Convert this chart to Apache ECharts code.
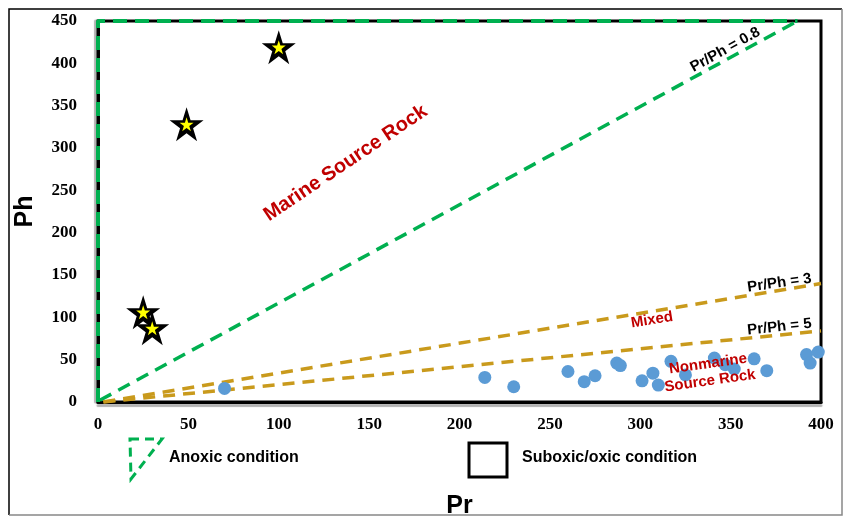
<!DOCTYPE html>
<html>
<head>
<meta charset="utf-8">
<script src="https://cdn.jsdelivr.net/npm/echarts@6/dist/echarts.min.js"></script>
<style>
  html,body{margin:0;padding:0;background:#fff;}
  #chart{width:843px;height:518px;}
</style>
</head>
<body>
<div id="chart"></div>
<script>
"use strict";

// samples (stars = marine, dots = nonmarine)
var starPr=[100,49,25,30];
var starPh=[419,328,106,87];

var dotPr=[70,214,230,260,269,275,287,289,301,307,310,317,325,341,347,352,363,370,392,394,398.5];
var dotPh=[16,29,18,36,24,31,46,43,25,34,20,48,32,52,44,39,51,37,56,46,59];

// ratio lines
var line08Pr=[1,387], line08Ph=[2,450];
var line3Pr=[3,400], line3Ph=[0,140];
var line5Pr=[3,400], line5Ph=[0,84];

// anoxic zone edge along left / top
var anoxPr=[0,0,387];
var anoxPh=[0,450,450];

var xTicks=[0,50,100,150,200,250,300,350,400];
var yTicks=[0,50,100,150,200,250,300,350,400,450];

// in-plot labels: [Pr, Ph, text]
var notes=[
  [137,282,"Marine Source Rock"],
  [347,416,"Pr/Ph = 0.8"],
  [377,140.5,"Pr/Ph = 3"],
  [377,88.6,"Pr/Ph = 5"],
  [306.5,96.8,"Mixed"],
  [337.5,44.9,"Nonmarine"],
  [338.6,24.8,"Source Rock"]
];
var noteRot=[34,29,8,6,9,8,8];
var noteColor=["#c00000","#000","#000","#000","#c00000","#c00000","#c00000"];
var noteSize=[20,15,15,15,15,15,15];

function pairs(a,b){
  var out=[];
  for(var i=0;i<a.length;i++) out.push([a[i],b[i]]);
  return out;
}

var STAR='path://M50,0 L61.2,34.5 L97.6,34.5 L68.2,55.9 L79.4,90.5 L50,69.1 L20.6,90.5 L31.8,55.9 L2.4,34.5 L38.8,34.5 Z';
var SERIF='"Liberation Serif","Times New Roman",serif';
var SANS='"Liberation Sans",Arial,sans-serif';

var chart=echarts.init(document.getElementById('chart'),null,{renderer:'canvas'});

var noteData=notes.map(function(n,i){
  return {
    value:[n[0],n[1]],
    label:{
      show:true,position:'inside',formatter:n[2],rotate:noteRot[i],
      color:noteColor[i],fontSize:noteSize[i],fontWeight:'bold',fontFamily:SANS,
      align:'center',verticalAlign:'middle',opacity:1,textBorderWidth:0
    }
  };
});

var opt={
  backgroundColor:'#fff',
  animation:false,
  grid:{left:98,right:22,top:21,bottom:116,outerBoundsMode:'none',containLabel:false,
    show:true,borderColor:'#000',borderWidth:3,backgroundColor:'transparent'},
  xAxis:{
    type:'value',min:xTicks[0],max:xTicks[xTicks.length-1],interval:50,
    name:'Pr',nameLocation:'middle',nameGap:92,
    nameTextStyle:{fontFamily:SANS,fontWeight:'bold',fontSize:25,color:'#000'},
    axisLine:{show:true,lineStyle:{color:'#000',width:3,shadowColor:'rgba(0,0,0,0.3)',shadowOffsetY:3,shadowBlur:1}},
    axisTick:{show:false},
    splitLine:{show:false},
    axisLabel:{margin:14,color:'#000',fontFamily:SERIF,fontWeight:'bold',fontSize:17}
  },
  yAxis:{
    type:'value',min:yTicks[0],max:yTicks[yTicks.length-1],interval:50,
    name:'Ph',nameLocation:'middle',nameGap:60,
    nameTextStyle:{fontFamily:SANS,fontWeight:'bold',fontSize:25,color:'#000'},
    axisLine:{show:true,lineStyle:{color:'#000',width:3,shadowColor:'rgba(0,0,0,0.3)',shadowOffsetX:-3,shadowBlur:1}},
    axisTick:{show:false},
    splitLine:{show:false},
    axisLabel:{margin:21,color:'#000',fontFamily:SERIF,fontWeight:'bold',fontSize:17}
  },
  series:[
    {
      type:'line',data:pairs(anoxPr,anoxPh),symbol:'none',silent:true,clip:false,
      lineStyle:{color:'#00b050',width:4,type:[14,8]},z:5
    },
    {
      type:'line',data:pairs(line08Pr,line08Ph),symbol:'none',silent:true,
      lineStyle:{color:'#00b050',width:3.5,type:[13,8]},z:4
    },
    {
      type:'line',data:pairs(line3Pr,line3Ph),symbol:'none',silent:true,
      lineStyle:{color:'#c99a1c',width:3.5,type:[12,8]},z:4
    },
    {
      type:'line',data:pairs(line5Pr,line5Ph),symbol:'none',silent:true,
      lineStyle:{color:'#c99a1c',width:3.5,type:[12,8]},z:4
    },
    {
      type:'scatter',data:pairs(dotPr,dotPh),symbol:'circle',symbolSize:13,
      itemStyle:{color:'#5b9bd5',opacity:1},z:6
    },
    {
      type:'scatter',data:pairs(starPr,starPh),symbol:STAR,symbolSize:34,
      itemStyle:{color:'#000',opacity:1},z:7
    },
    {
      type:'scatter',data:pairs(starPr,starPh),symbol:STAR,symbolSize:14,
      itemStyle:{color:'#ffff00',opacity:1},z:8
    },
    {
      type:'scatter',data:noteData,symbolSize:1,silent:true,
      itemStyle:{color:'rgba(255,255,255,0)'},z:9
    }
  ],
  graphic:[
    // outer frame
    {type:'polyline',shape:{points:[[9,515],[9,9],[842,9]]},style:{stroke:'#000',lineWidth:1.5,fill:null}},
    {type:'polyline',shape:{points:[[842,9],[842,515],[9,515]]},style:{stroke:'#888',lineWidth:1.5,fill:null}},
    // legend
    {type:'polygon',shape:{points:[[130,439],[162,439],[131,479]]},
      style:{stroke:'#00b050',lineWidth:3,lineDash:[9,6],fill:null}},
    {type:'text',x:169,y:458,style:{text:'Anoxic condition',fill:'#000',font:'bold 16px '+SANS,textVerticalAlign:'middle'}},
    {type:'rect',shape:{x:469,y:443,width:38,height:34},style:{stroke:'#000',lineWidth:3,fill:'#fff'}},
    {type:'text',x:522,y:458,style:{text:'Suboxic/oxic condition',fill:'#000',font:'bold 16px '+SANS,textVerticalAlign:'middle'}}
  ]
};

chart.setOption(opt);
</script>
</body>
</html>
